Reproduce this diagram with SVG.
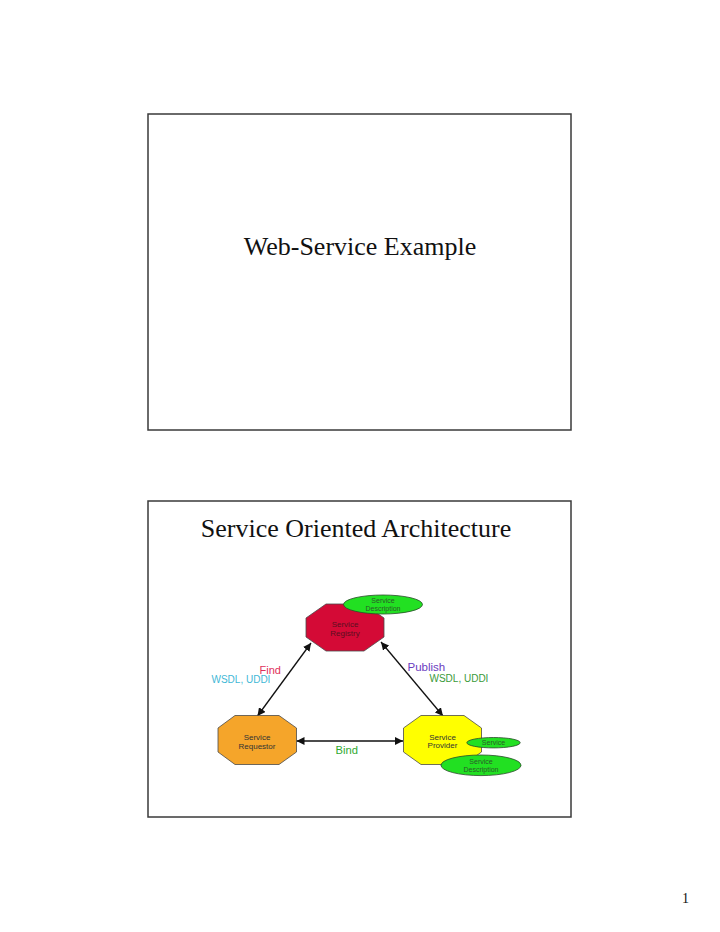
<svg xmlns="http://www.w3.org/2000/svg" width="720" height="932" viewBox="0 0 720 932">
<defs>
<style>
.slide{fill:#fff;stroke:#3a3a3a;stroke-width:1.5}
.title{font-family:"Liberation Serif","Times New Roman",serif;font-size:26px;fill:#111;text-anchor:middle}
.oct{stroke:#4a4a4a;stroke-width:0.8}
.ell{fill:#22e022;stroke:#2a4a2a;stroke-width:0.8}
.lbl{font-family:"Liberation Sans",Arial,sans-serif;font-size:8px;text-anchor:middle;fill:#333}
.elbl{font-family:"Liberation Sans",Arial,sans-serif;font-size:7px;text-anchor:middle;fill:#2a5a2a}
.edge{stroke:#111;stroke-width:1.3;fill:none;marker-start:url(#ah);marker-end:url(#ah)}
.el{font-family:"Liberation Sans",Arial,sans-serif}
</style>
<marker id="ah" viewBox="0 0 10 10" refX="10" refY="5" markerWidth="8" markerHeight="8" markerUnits="userSpaceOnUse" orient="auto-start-reverse">
<path d="M0,0 L10,5 L0,10 z" fill="#111"/>
</marker>
</defs>
<rect width="720" height="932" fill="#fff"/>

<g id="slide1">
<rect class="slide" x="148" y="114" width="423" height="316"/>
<text class="title" x="360" y="255">Web-Service Example</text>
</g>

<g id="slide2">
<rect class="slide" x="148" y="501" width="423" height="316"/>
<text class="title" x="356" y="537">Service Oriented Architecture</text>
</g>

<g id="connectors">
<line class="edge" x1="311" y1="643" x2="257.5" y2="716"/>
<line class="edge" x1="381" y1="642" x2="443" y2="716"/>
<line class="edge" x1="296.5" y1="741" x2="403" y2="741"/>
<text class="el" x="259.5" y="673.5" font-size="11" fill="#e0305a">Find</text>
<text class="el" x="211.5" y="682.5" font-size="10" fill="#3fb8d6">WSDL, UDDI</text>
<text class="el" x="407.5" y="670.5" font-size="11.5" fill="#6a3cc0">Publish</text>
<text class="el" x="429.5" y="682" font-size="10" fill="#3a9a3a">WSDL, UDDI</text>
<text class="el" x="335.5" y="754" font-size="11.2" fill="#2faa2f">Bind</text>
</g>

<g id="registry">
<polygon class="oct" fill="#d40a36" points="326,604 364,604 384,618 384,637 364,651 326,651 306,637 306,618"/>
<text class="lbl" x="345" y="627" style="fill:#5a0f20">Service</text>
<text class="lbl" x="345" y="635.5" style="fill:#5a0f20">Registry</text>
</g>

<g id="registry-description">
<ellipse class="ell" cx="383" cy="604.5" rx="39.5" ry="9.5"/>
<text class="elbl" x="383" y="603">Service</text>
<text class="elbl" x="383" y="611">Description</text>
</g>

<g id="requestor">
<polygon class="oct" fill="#f5a52a" points="235,715.5 279,715.5 296.5,728 296.5,752 279,764.5 235,764.5 218,752 218,728"/>
<text class="lbl" x="257" y="740">Service</text>
<text class="lbl" x="257" y="748.5">Requestor</text>
</g>

<g id="provider">
<polygon class="oct" fill="#ffff00" points="421,715.5 464,715.5 481.5,728 481.5,752 464,764.5 421,764.5 403.5,752 403.5,728"/>
<text class="lbl" x="442.5" y="739.5">Service</text>
<text class="lbl" x="442.5" y="748">Provider</text>
</g>

<g id="provider-service">
<ellipse class="ell" cx="493.5" cy="742.7" rx="26.7" ry="5.2"/>
<text class="elbl" x="493.5" y="745.2">Service</text>
</g>

<g id="provider-description">
<ellipse class="ell" cx="481" cy="765.3" rx="40" ry="10.3"/>
<text class="elbl" x="481" y="764">Service</text>
<text class="elbl" x="481" y="772">Description</text>
</g>

<text x="685.5" y="903" font-family="Liberation Serif, Times New Roman, serif" font-size="14" text-anchor="middle" fill="#111">1</text>
</svg>
